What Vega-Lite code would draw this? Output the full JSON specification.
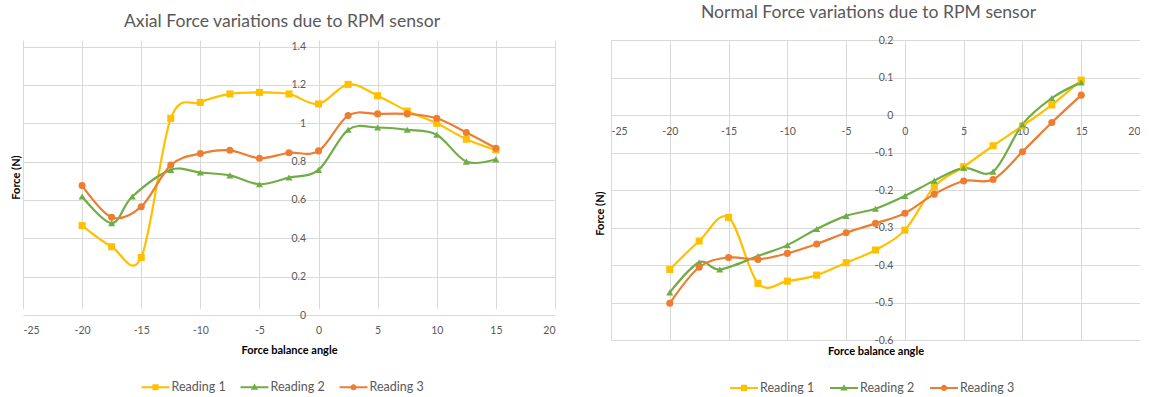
{
  "$schema": "https://vega.github.io/schema/vega-lite/v6.json",
  "background": "white",
  "autosize": {"type": "pad"},
  "padding": {"left": 10, "top": 4, "right": 0, "bottom": 0},
  "datasets": {
    "axial": [
      {"reading": "Reading 1", "angle": -20, "force": 0.466},
      {"reading": "Reading 1", "angle": -17.5, "force": 0.356},
      {"reading": "Reading 1", "angle": -15, "force": 0.300},
      {"reading": "Reading 1", "angle": -12.5, "force": 1.026},
      {"reading": "Reading 1", "angle": -10, "force": 1.109},
      {"reading": "Reading 1", "angle": -7.5, "force": 1.153},
      {"reading": "Reading 1", "angle": -5, "force": 1.161},
      {"reading": "Reading 1", "angle": -2.5, "force": 1.153},
      {"reading": "Reading 1", "angle": 0, "force": 1.101},
      {"reading": "Reading 1", "angle": 2.5, "force": 1.203},
      {"reading": "Reading 1", "angle": 5, "force": 1.144},
      {"reading": "Reading 1", "angle": 7.5, "force": 1.064},
      {"reading": "Reading 1", "angle": 10, "force": 1.0},
      {"reading": "Reading 1", "angle": 12.5, "force": 0.917},
      {"reading": "Reading 1", "angle": 15, "force": 0.861},
      {"reading": "Reading 2", "angle": -20, "force": 0.618},
      {"reading": "Reading 2", "angle": -17.5, "force": 0.479},
      {"reading": "Reading 2", "angle": -15.75, "force": 0.618},
      {"reading": "Reading 2", "angle": -12.5, "force": 0.757},
      {"reading": "Reading 2", "angle": -10, "force": 0.743},
      {"reading": "Reading 2", "angle": -7.5, "force": 0.728},
      {"reading": "Reading 2", "angle": -5, "force": 0.682},
      {"reading": "Reading 2", "angle": -2.5, "force": 0.717},
      {"reading": "Reading 2", "angle": 0, "force": 0.757},
      {"reading": "Reading 2", "angle": 2.5, "force": 0.966},
      {"reading": "Reading 2", "angle": 5, "force": 0.978},
      {"reading": "Reading 2", "angle": 7.5, "force": 0.966},
      {"reading": "Reading 2", "angle": 10, "force": 0.940},
      {"reading": "Reading 2", "angle": 12.5, "force": 0.800},
      {"reading": "Reading 2", "angle": 15, "force": 0.812},
      {"reading": "Reading 3", "angle": -20, "force": 0.675},
      {"reading": "Reading 3", "angle": -17.5, "force": 0.510},
      {"reading": "Reading 3", "angle": -15, "force": 0.565},
      {"reading": "Reading 3", "angle": -12.5, "force": 0.782},
      {"reading": "Reading 3", "angle": -10, "force": 0.842},
      {"reading": "Reading 3", "angle": -7.5, "force": 0.859},
      {"reading": "Reading 3", "angle": -5, "force": 0.818},
      {"reading": "Reading 3", "angle": -2.5, "force": 0.846},
      {"reading": "Reading 3", "angle": 0, "force": 0.856},
      {"reading": "Reading 3", "angle": 2.5, "force": 1.040},
      {"reading": "Reading 3", "angle": 5, "force": 1.049},
      {"reading": "Reading 3", "angle": 7.5, "force": 1.049},
      {"reading": "Reading 3", "angle": 10, "force": 1.026},
      {"reading": "Reading 3", "angle": 12.5, "force": 0.952},
      {"reading": "Reading 3", "angle": 15, "force": 0.870}
    ],
    "normal": [
      {"reading": "Reading 1", "angle": -20, "force": -0.412},
      {"reading": "Reading 1", "angle": -17.5, "force": -0.336},
      {"reading": "Reading 1", "angle": -15, "force": -0.273},
      {"reading": "Reading 1", "angle": -12.5, "force": -0.449},
      {"reading": "Reading 1", "angle": -10, "force": -0.443},
      {"reading": "Reading 1", "angle": -7.5, "force": -0.427},
      {"reading": "Reading 1", "angle": -5, "force": -0.394},
      {"reading": "Reading 1", "angle": -2.5, "force": -0.360},
      {"reading": "Reading 1", "angle": 0, "force": -0.307},
      {"reading": "Reading 1", "angle": 2.5, "force": -0.191},
      {"reading": "Reading 1", "angle": 5, "force": -0.138},
      {"reading": "Reading 1", "angle": 7.5, "force": -0.082},
      {"reading": "Reading 1", "angle": 10, "force": -0.029},
      {"reading": "Reading 1", "angle": 12.5, "force": 0.027},
      {"reading": "Reading 1", "angle": 15, "force": 0.093},
      {"reading": "Reading 2", "angle": -20, "force": -0.473},
      {"reading": "Reading 2", "angle": -17.5, "force": -0.393},
      {"reading": "Reading 2", "angle": -15.75, "force": -0.412},
      {"reading": "Reading 2", "angle": -12.5, "force": -0.376},
      {"reading": "Reading 2", "angle": -10, "force": -0.347},
      {"reading": "Reading 2", "angle": -7.5, "force": -0.304},
      {"reading": "Reading 2", "angle": -5, "force": -0.269},
      {"reading": "Reading 2", "angle": -2.5, "force": -0.250},
      {"reading": "Reading 2", "angle": 0, "force": -0.216},
      {"reading": "Reading 2", "angle": 2.5, "force": -0.175},
      {"reading": "Reading 2", "angle": 5, "force": -0.141},
      {"reading": "Reading 2", "angle": 7.5, "force": -0.151},
      {"reading": "Reading 2", "angle": 10, "force": -0.025},
      {"reading": "Reading 2", "angle": 12.5, "force": 0.045},
      {"reading": "Reading 2", "angle": 15, "force": 0.087},
      {"reading": "Reading 3", "angle": -20, "force": -0.502},
      {"reading": "Reading 3", "angle": -17.5, "force": -0.406},
      {"reading": "Reading 3", "angle": -15, "force": -0.380},
      {"reading": "Reading 3", "angle": -12.5, "force": -0.385},
      {"reading": "Reading 3", "angle": -10, "force": -0.369},
      {"reading": "Reading 3", "angle": -7.5, "force": -0.344},
      {"reading": "Reading 3", "angle": -5, "force": -0.314},
      {"reading": "Reading 3", "angle": -2.5, "force": -0.289},
      {"reading": "Reading 3", "angle": 0, "force": -0.262},
      {"reading": "Reading 3", "angle": 2.5, "force": -0.211},
      {"reading": "Reading 3", "angle": 5, "force": -0.176},
      {"reading": "Reading 3", "angle": 7.5, "force": -0.172},
      {"reading": "Reading 3", "angle": 10, "force": -0.098},
      {"reading": "Reading 3", "angle": 12.5, "force": -0.020},
      {"reading": "Reading 3", "angle": 15, "force": 0.053}
    ]
  },
  "spacing": 56,
  "bounds": "flush",
  "resolve": {
    "scale": {"x": "independent", "y": "independent", "color": "independent", "shape": "independent"},
    "axis": {"x": "independent", "y": "independent"},
    "legend": {"color": "independent", "shape": "independent"}
  },
  "hconcat": [
    {
      "width": 532,
      "height": 275,
      "data": {"name": "axial"},
      "title": {"text": "Axial Force variations due to RPM sensor", "offset": 9, "dx": -7},
      "encoding": {
        "x": {
          "field": "angle", "type": "quantitative",
          "scale": {"domain": [-25, 20], "nice": false, "zero": false},
          "axis": {
            "title": "Force balance angle", "grid": true,
            "values": [-25, -20, -15, -10, -5, 0, 5, 10, 15, 20],
            "labelExpr": "(datum.value < 0 ? '-' : '') + format(abs(datum.value), '~g')",
            "labelBaseline": "middle", "labelPadding": 15,
            "titleY": 35, "titleBaseline": "middle"
          }
        },
        "y": {
          "field": "force", "type": "quantitative",
          "scale": {"domain": [0, 1.4], "range": [275, 6.6], "nice": false, "zero": false},
          "axis": {
            "title": "Force (N)", "offset": -295.6, "grid": true,
            "values": [0, 0.2, 0.4, 0.6, 0.8, 1, 1.2, 1.4],
            "labelExpr": "format(datum.value, '~g')",
            "labelPadding": 13,
            "titleX": -302.6, "titleY": 137, "titleAngle": 270,
            "titleAlign": "center", "titleBaseline": "middle"
          }
        }
      },
      "layer": [
        {
          "transform": [{"filter": "false"}],
          "mark": {"type": "point", "filled": true, "opacity": 1, "size": 784, "strokeWidth": 0},
          "encoding": {
            "color": {
              "field": "reading", "type": "nominal",
              "scale": {"domain": ["Reading 1", "Reading 2", "Reading 3"], "range": ["#FFC000", "#70AD47", "#ED7D31"]},
              "legend": {
                "orient": "none", "legendX": 118.5, "legendY": 333,
                "direction": "horizontal", "columns": 3, "title": null,
                "symbolSize": 784, "symbolStrokeWidth": 0, "labelOffset": 2, "columnPadding": 14, "gridAlign": "all"
              }
            },
            "shape": {
              "field": "reading", "type": "nominal",
              "scale": {
                "domain": ["Reading 1", "Reading 2", "Reading 3"],
                "range": [
                  "M-1,-0.075H1V0.075H-1ZM-0.22,-0.22H0.22V0.22H-0.22Z",
                  "M-1,-0.075H1V0.075H-1ZM0,-0.27L0.26,0.18H-0.26Z",
                  "M-1,-0.075H1V0.075H-1ZM0.22,0A0.22,0.22 0 1,1 -0.22,0A0.22,0.22 0 1,1 0.22,0Z"
                ]
              },
              "legend": null
            }
          }
        },
        {
          "mark": {"type": "line", "interpolate": "cardinal", "strokeWidth": 2.2},
          "encoding": {
            "color": {
              "field": "reading", "type": "nominal",
              "scale": {"domain": ["Reading 1", "Reading 2", "Reading 3"], "range": ["#FFC000", "#70AD47", "#ED7D31"]},
              "legend": null
            }
          }
        },
        {
          "transform": [{"filter": "datum.reading === 'Reading 1'"}],
          "mark": {"type": "point", "shape": "square", "filled": true, "opacity": 1, "color": "#FFC000", "size": 50}
        },
        {
          "transform": [{"filter": "datum.reading === 'Reading 2'"}],
          "mark": {"type": "point", "shape": "triangle-up", "filled": true, "opacity": 1, "color": "#70AD47", "size": 50}
        },
        {
          "transform": [{"filter": "datum.reading === 'Reading 3'"}],
          "mark": {"type": "point", "shape": "circle", "filled": true, "opacity": 1, "color": "#ED7D31", "size": 50}
        }
      ]
    },
    {
      "width": 529,
      "height": 300,
      "data": {"name": "normal"},
      "title": {"text": "Normal Force variations due to RPM sensor", "offset": 13, "dx": -7},
      "encoding": {
        "x": {
          "field": "angle", "type": "quantitative",
          "scale": {"domain": [-25, 20], "nice": false, "zero": false},
          "axis": {
            "title": "Force balance angle", "grid": true, "offset": -225,
            "values": [-25, -20, -15, -10, -5, 0, 5, 10, 15, 20],
            "labelExpr": "(datum.value < 0 ? '-' : '') + format(abs(datum.value), '~g')",
            "labelBaseline": "middle", "labelPadding": 16.7,
            "titleY": 236.7, "titleBaseline": "middle"
          }
        },
        "y": {
          "field": "force", "type": "quantitative",
          "scale": {"domain": [-0.6, 0.2], "nice": false, "zero": false},
          "axis": {
            "title": "Force (N)", "offset": -293.9, "grid": true,
            "values": [-0.6, -0.5, -0.4, -0.3, -0.2, -0.1, 0, 0.1, 0.2],
            "labelExpr": "(datum.value < 0 ? '-' : '') + format(abs(datum.value), '~g')",
            "labelPadding": 12,
            "titleX": -304.9, "titleY": 173, "titleAngle": 270,
            "titleAlign": "center", "titleBaseline": "middle"
          }
        }
      },
      "layer": [
        {
          "transform": [{"filter": "false"}],
          "mark": {"type": "point", "filled": true, "opacity": 1, "size": 784, "strokeWidth": 0},
          "encoding": {
            "color": {
              "field": "reading", "type": "nominal",
              "scale": {"domain": ["Reading 1", "Reading 2", "Reading 3"], "range": ["#FFC000", "#70AD47", "#ED7D31"]},
              "legend": {
                "orient": "none", "legendX": 119, "legendY": 333.7,
                "direction": "horizontal", "columns": 3, "title": null,
                "symbolSize": 784, "symbolStrokeWidth": 0, "labelOffset": 2, "columnPadding": 15, "gridAlign": "all"
              }
            },
            "shape": {
              "field": "reading", "type": "nominal",
              "scale": {
                "domain": ["Reading 1", "Reading 2", "Reading 3"],
                "range": [
                  "M-1,-0.075H1V0.075H-1ZM-0.22,-0.22H0.22V0.22H-0.22Z",
                  "M-1,-0.075H1V0.075H-1ZM0,-0.27L0.26,0.18H-0.26Z",
                  "M-1,-0.075H1V0.075H-1ZM0.22,0A0.22,0.22 0 1,1 -0.22,0A0.22,0.22 0 1,1 0.22,0Z"
                ]
              },
              "legend": null
            }
          }
        },
        {
          "mark": {"type": "line", "interpolate": "cardinal", "strokeWidth": 2.2},
          "encoding": {
            "color": {
              "field": "reading", "type": "nominal",
              "scale": {"domain": ["Reading 1", "Reading 2", "Reading 3"], "range": ["#FFC000", "#70AD47", "#ED7D31"]},
              "legend": null
            }
          }
        },
        {
          "transform": [{"filter": "datum.reading === 'Reading 1'"}],
          "mark": {"type": "point", "shape": "square", "filled": true, "opacity": 1, "color": "#FFC000", "size": 50}
        },
        {
          "transform": [{"filter": "datum.reading === 'Reading 2'"}],
          "mark": {"type": "point", "shape": "triangle-up", "filled": true, "opacity": 1, "color": "#70AD47", "size": 50}
        },
        {
          "transform": [{"filter": "datum.reading === 'Reading 3'"}],
          "mark": {"type": "point", "shape": "circle", "filled": true, "opacity": 1, "color": "#ED7D31", "size": 50}
        }
      ]
    }
  ],
  "config": {
    "view": {"stroke": null},
    "font": "Lato",
    "title": {"font": "Lato", "fontSize": 17.6, "fontWeight": "normal", "color": "#595959", "anchor": "middle", "frame": "group"},
    "axis": {
      "domain": false, "ticks": false, "tickSize": 0,
      "gridColor": "#d9d9d9", "gridWidth": 1, "gridOpacity": 1,
      "labelFont": "Lato", "labelFontSize": 10.5, "labelColor": "#595959",
      "titleFont": "Lato", "titleFontSize": 11, "titleFontWeight": "bold", "titleColor": "#000000"
    },
    "legend": {"labelFont": "Lato", "labelFontSize": 12.5, "labelColor": "#595959"}
  }
}
